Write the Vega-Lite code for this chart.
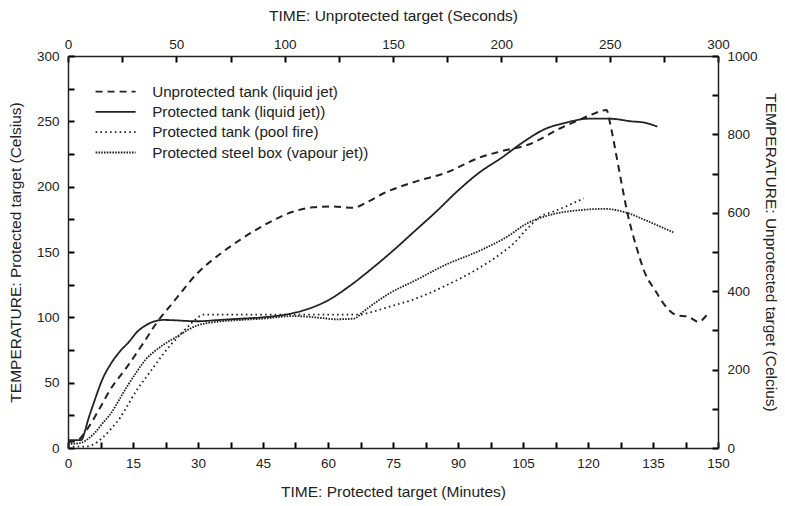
{
  "$schema": "https://vega.github.io/schema/vega-lite/v6.json",
  "width": 650,
  "height": 392,
  "autosize": {"type": "none"},
  "padding": {"left": 68, "top": 56, "right": 67, "bottom": 58},
  "background": "white",
  "config": {
    "view": {"stroke": null},
    "axis": {
      "domainColor": "#222", "domainWidth": 1.5,
      "labelFont": "Liberation Sans", "labelFontSize": 13.5, "labelColor": "#222",
      "titleFont": "Liberation Sans", "titleFontSize": 15.5, "titleFontWeight": "normal", "titleColor": "#222",
      "grid": false, "labelFlush": false, "labelOverlap": false
    },
    "legend": {
      "orient": "none", "legendX": 40, "legendY": 28, "padding": 0,
      "labelFont": "Liberation Sans", "labelFontSize": 15.2, "labelColor": "#222",
      "labelOffset": 29, "rowPadding": 4.3, "symbolType": "M-4,0H4", "symbolSize": 100,
      "symbolStrokeWidth": 1.8, "symbolStrokeColor": "#222", "labelLimit": 400, "title": null
    }
  },
  "datasets": {
    "protected": [
      {"series": "Protected tank (liquid jet))", "minutes": 0, "temp": 6},
      {"series": "Protected tank (liquid jet))", "minutes": 3, "temp": 6},
      {"series": "Protected tank (liquid jet))", "minutes": 4, "temp": 14},
      {"series": "Protected tank (liquid jet))", "minutes": 4.5, "temp": 20},
      {"series": "Protected tank (liquid jet))", "minutes": 6, "temp": 35},
      {"series": "Protected tank (liquid jet))", "minutes": 8, "temp": 53},
      {"series": "Protected tank (liquid jet))", "minutes": 10, "temp": 65},
      {"series": "Protected tank (liquid jet))", "minutes": 12, "temp": 74},
      {"series": "Protected tank (liquid jet))", "minutes": 14, "temp": 81},
      {"series": "Protected tank (liquid jet))", "minutes": 16, "temp": 89},
      {"series": "Protected tank (liquid jet))", "minutes": 18, "temp": 94},
      {"series": "Protected tank (liquid jet))", "minutes": 20, "temp": 97},
      {"series": "Protected tank (liquid jet))", "minutes": 22, "temp": 98},
      {"series": "Protected tank (liquid jet))", "minutes": 30, "temp": 97},
      {"series": "Protected tank (liquid jet))", "minutes": 35, "temp": 98},
      {"series": "Protected tank (liquid jet))", "minutes": 40, "temp": 99},
      {"series": "Protected tank (liquid jet))", "minutes": 45, "temp": 100},
      {"series": "Protected tank (liquid jet))", "minutes": 50, "temp": 102},
      {"series": "Protected tank (liquid jet))", "minutes": 55, "temp": 106},
      {"series": "Protected tank (liquid jet))", "minutes": 60, "temp": 113},
      {"series": "Protected tank (liquid jet))", "minutes": 65, "temp": 124},
      {"series": "Protected tank (liquid jet))", "minutes": 70, "temp": 137},
      {"series": "Protected tank (liquid jet))", "minutes": 75, "temp": 151},
      {"series": "Protected tank (liquid jet))", "minutes": 80, "temp": 166},
      {"series": "Protected tank (liquid jet))", "minutes": 85, "temp": 181},
      {"series": "Protected tank (liquid jet))", "minutes": 90, "temp": 197},
      {"series": "Protected tank (liquid jet))", "minutes": 95, "temp": 211},
      {"series": "Protected tank (liquid jet))", "minutes": 100, "temp": 222},
      {"series": "Protected tank (liquid jet))", "minutes": 105, "temp": 234},
      {"series": "Protected tank (liquid jet))", "minutes": 110, "temp": 244},
      {"series": "Protected tank (liquid jet))", "minutes": 115, "temp": 249},
      {"series": "Protected tank (liquid jet))", "minutes": 120, "temp": 252},
      {"series": "Protected tank (liquid jet))", "minutes": 125, "temp": 252},
      {"series": "Protected tank (liquid jet))", "minutes": 130, "temp": 250},
      {"series": "Protected tank (liquid jet))", "minutes": 133, "temp": 249},
      {"series": "Protected tank (liquid jet))", "minutes": 136, "temp": 246},

      {"series": "Protected tank (pool fire)", "minutes": 0, "temp": 1},
      {"series": "Protected tank (pool fire)", "minutes": 4, "temp": 1},
      {"series": "Protected tank (pool fire)", "minutes": 6, "temp": 3},
      {"series": "Protected tank (pool fire)", "minutes": 8, "temp": 8},
      {"series": "Protected tank (pool fire)", "minutes": 10, "temp": 15},
      {"series": "Protected tank (pool fire)", "minutes": 12, "temp": 23},
      {"series": "Protected tank (pool fire)", "minutes": 14, "temp": 34},
      {"series": "Protected tank (pool fire)", "minutes": 16, "temp": 45},
      {"series": "Protected tank (pool fire)", "minutes": 18, "temp": 54},
      {"series": "Protected tank (pool fire)", "minutes": 20, "temp": 63},
      {"series": "Protected tank (pool fire)", "minutes": 22, "temp": 72},
      {"series": "Protected tank (pool fire)", "minutes": 24, "temp": 80},
      {"series": "Protected tank (pool fire)", "minutes": 26, "temp": 87},
      {"series": "Protected tank (pool fire)", "minutes": 28, "temp": 94},
      {"series": "Protected tank (pool fire)", "minutes": 30, "temp": 100},
      {"series": "Protected tank (pool fire)", "minutes": 31, "temp": 102},
      {"series": "Protected tank (pool fire)", "minutes": 40, "temp": 102},
      {"series": "Protected tank (pool fire)", "minutes": 50, "temp": 102},
      {"series": "Protected tank (pool fire)", "minutes": 60, "temp": 102},
      {"series": "Protected tank (pool fire)", "minutes": 67, "temp": 102},
      {"series": "Protected tank (pool fire)", "minutes": 70, "temp": 104},
      {"series": "Protected tank (pool fire)", "minutes": 74, "temp": 108},
      {"series": "Protected tank (pool fire)", "minutes": 80, "temp": 114},
      {"series": "Protected tank (pool fire)", "minutes": 87, "temp": 124},
      {"series": "Protected tank (pool fire)", "minutes": 95, "temp": 138},
      {"series": "Protected tank (pool fire)", "minutes": 100, "temp": 149},
      {"series": "Protected tank (pool fire)", "minutes": 103, "temp": 157},
      {"series": "Protected tank (pool fire)", "minutes": 106, "temp": 168},
      {"series": "Protected tank (pool fire)", "minutes": 109, "temp": 177},
      {"series": "Protected tank (pool fire)", "minutes": 112, "temp": 181},
      {"series": "Protected tank (pool fire)", "minutes": 115, "temp": 185},
      {"series": "Protected tank (pool fire)", "minutes": 117, "temp": 188},
      {"series": "Protected tank (pool fire)", "minutes": 119, "temp": 191},

      {"series": "Protected steel box (vapour jet))", "minutes": 0, "temp": 3},
      {"series": "Protected steel box (vapour jet))", "minutes": 3, "temp": 4},
      {"series": "Protected steel box (vapour jet))", "minutes": 5, "temp": 8},
      {"series": "Protected steel box (vapour jet))", "minutes": 6, "temp": 11},
      {"series": "Protected steel box (vapour jet))", "minutes": 8, "temp": 19},
      {"series": "Protected steel box (vapour jet))", "minutes": 10, "temp": 27},
      {"series": "Protected steel box (vapour jet))", "minutes": 12, "temp": 38},
      {"series": "Protected steel box (vapour jet))", "minutes": 14, "temp": 49},
      {"series": "Protected steel box (vapour jet))", "minutes": 16, "temp": 59},
      {"series": "Protected steel box (vapour jet))", "minutes": 18, "temp": 68},
      {"series": "Protected steel box (vapour jet))", "minutes": 20, "temp": 74},
      {"series": "Protected steel box (vapour jet))", "minutes": 22, "temp": 79},
      {"series": "Protected steel box (vapour jet))", "minutes": 25, "temp": 85},
      {"series": "Protected steel box (vapour jet))", "minutes": 28, "temp": 91},
      {"series": "Protected steel box (vapour jet))", "minutes": 30, "temp": 94},
      {"series": "Protected steel box (vapour jet))", "minutes": 33, "temp": 96},
      {"series": "Protected steel box (vapour jet))", "minutes": 40, "temp": 98},
      {"series": "Protected steel box (vapour jet))", "minutes": 45, "temp": 99},
      {"series": "Protected steel box (vapour jet))", "minutes": 52, "temp": 101},
      {"series": "Protected steel box (vapour jet))", "minutes": 57, "temp": 100},
      {"series": "Protected steel box (vapour jet))", "minutes": 62, "temp": 98.5},
      {"series": "Protected steel box (vapour jet))", "minutes": 66, "temp": 99},
      {"series": "Protected steel box (vapour jet))", "minutes": 68, "temp": 104},
      {"series": "Protected steel box (vapour jet))", "minutes": 70, "temp": 109},
      {"series": "Protected steel box (vapour jet))", "minutes": 74, "temp": 118},
      {"series": "Protected steel box (vapour jet))", "minutes": 80, "temp": 128},
      {"series": "Protected steel box (vapour jet))", "minutes": 87, "temp": 140},
      {"series": "Protected steel box (vapour jet))", "minutes": 95, "temp": 151},
      {"series": "Protected steel box (vapour jet))", "minutes": 101, "temp": 161},
      {"series": "Protected steel box (vapour jet))", "minutes": 106, "temp": 172},
      {"series": "Protected steel box (vapour jet))", "minutes": 112, "temp": 179},
      {"series": "Protected steel box (vapour jet))", "minutes": 118, "temp": 182},
      {"series": "Protected steel box (vapour jet))", "minutes": 124, "temp": 183},
      {"series": "Protected steel box (vapour jet))", "minutes": 129, "temp": 180},
      {"series": "Protected steel box (vapour jet))", "minutes": 133.5, "temp": 174},
      {"series": "Protected steel box (vapour jet))", "minutes": 137, "temp": 169},
      {"series": "Protected steel box (vapour jet))", "minutes": 139.7, "temp": 165}
    ],
    "unprotected": [
      {"series": "Unprotected tank (liquid jet)", "seconds": 0, "temp_u": 15},
      {"series": "Unprotected tank (liquid jet)", "seconds": 4, "temp_u": 18},
      {"series": "Unprotected tank (liquid jet)", "seconds": 8.6, "temp_u": 46},
      {"series": "Unprotected tank (liquid jet)", "seconds": 14, "temp_u": 95},
      {"series": "Unprotected tank (liquid jet)", "seconds": 19.4, "temp_u": 148},
      {"series": "Unprotected tank (liquid jet)", "seconds": 27, "temp_u": 205},
      {"series": "Unprotected tank (liquid jet)", "seconds": 34.8, "temp_u": 268},
      {"series": "Unprotected tank (liquid jet)", "seconds": 41, "temp_u": 320},
      {"series": "Unprotected tank (liquid jet)", "seconds": 48.6, "temp_u": 372},
      {"series": "Unprotected tank (liquid jet)", "seconds": 59.4, "temp_u": 444},
      {"series": "Unprotected tank (liquid jet)", "seconds": 70.2, "temp_u": 495},
      {"series": "Unprotected tank (liquid jet)", "seconds": 79.4, "temp_u": 531},
      {"series": "Unprotected tank (liquid jet)", "seconds": 90.1, "temp_u": 567},
      {"series": "Unprotected tank (liquid jet)", "seconds": 101, "temp_u": 597},
      {"series": "Unprotected tank (liquid jet)", "seconds": 113, "temp_u": 614},
      {"series": "Unprotected tank (liquid jet)", "seconds": 121, "temp_u": 616},
      {"series": "Unprotected tank (liquid jet)", "seconds": 131.7, "temp_u": 613},
      {"series": "Unprotected tank (liquid jet)", "seconds": 138, "temp_u": 627},
      {"series": "Unprotected tank (liquid jet)", "seconds": 145, "temp_u": 648},
      {"series": "Unprotected tank (liquid jet)", "seconds": 159.4, "temp_u": 678},
      {"series": "Unprotected tank (liquid jet)", "seconds": 174.8, "temp_u": 703},
      {"series": "Unprotected tank (liquid jet)", "seconds": 190, "temp_u": 741},
      {"series": "Unprotected tank (liquid jet)", "seconds": 200, "temp_u": 757},
      {"series": "Unprotected tank (liquid jet)", "seconds": 213, "temp_u": 775},
      {"series": "Unprotected tank (liquid jet)", "seconds": 227, "temp_u": 815},
      {"series": "Unprotected tank (liquid jet)", "seconds": 236.3, "temp_u": 838},
      {"series": "Unprotected tank (liquid jet)", "seconds": 241, "temp_u": 849},
      {"series": "Unprotected tank (liquid jet)", "seconds": 248.6, "temp_u": 862},
      {"series": "Unprotected tank (liquid jet)", "seconds": 250.2, "temp_u": 828},
      {"series": "Unprotected tank (liquid jet)", "seconds": 253.2, "temp_u": 743},
      {"series": "Unprotected tank (liquid jet)", "seconds": 255.5, "temp_u": 675},
      {"series": "Unprotected tank (liquid jet)", "seconds": 257.9, "temp_u": 607},
      {"series": "Unprotected tank (liquid jet)", "seconds": 262.5, "temp_u": 510},
      {"series": "Unprotected tank (liquid jet)", "seconds": 266.3, "temp_u": 446},
      {"series": "Unprotected tank (liquid jet)", "seconds": 270.9, "temp_u": 403},
      {"series": "Unprotected tank (liquid jet)", "seconds": 274.8, "temp_u": 369},
      {"series": "Unprotected tank (liquid jet)", "seconds": 280.9, "temp_u": 339},
      {"series": "Unprotected tank (liquid jet)", "seconds": 286.3, "temp_u": 335},
      {"series": "Unprotected tank (liquid jet)", "seconds": 290.9, "temp_u": 322},
      {"series": "Unprotected tank (liquid jet)", "seconds": 294.8, "temp_u": 339}
    ]
  },
  "layer": [
    {
      "data": {"name": "protected"},
      "mark": {"type": "line", "strokeWidth": 1.8, "interpolate": "monotone", "color": "#222222"},
      "encoding": {
        "x": {"field": "minutes", "type": "quantitative",
          "scale": {"domain": [0, 150], "nice": false, "zero": false},
          "axis": {"orient": "bottom", "values": [0, 7.5, 15, 22.5, 30, 37.5, 45, 52.5, 60, 67.5, 75, 82.5, 90, 97.5, 105, 112.5, 120, 127.5, 135, 142.5, 150],
                   "labelExpr": "datum.value % 15 === 0 ? datum.label : ''",
                   "ticks": true, "tickSize": -6, "tickColor": "black", "tickWidth": 2, "labelPadding": 14, "title": "TIME: Protected target (Minutes)", "titlePadding": 15}},
        "y": {"field": "temp", "type": "quantitative",
          "scale": {"domain": [0, 300], "nice": false, "zero": false},
          "axis": {"orient": "left", "values": [0, 25, 50, 75, 100, 125, 150, 175, 200, 225, 250, 275, 300],
                   "labelExpr": "datum.value % 50 === 0 ? datum.label : ''",
                   "ticks": true, "tickSize": -6, "tickColor": "black", "tickWidth": 2, "labelPadding": 15, "title": "TEMPERATURE: Protected target (Celsius)", "titlePadding": 13}},
        "strokeDash": {"field": "series", "type": "nominal",
          "scale": {"domain": ["Unprotected tank (liquid jet)", "Protected tank (liquid jet))", "Protected tank (pool fire)", "Protected steel box (vapour jet))"],
                    "range": [[7, 5], [1, 0], [1.6, 3.2], [1.6, 1.2]]}}
      }
    },
    {
      "data": {"name": "unprotected"},
      "mark": {"type": "line", "strokeWidth": 2, "interpolate": "monotone", "color": "#222222"},
      "encoding": {
        "x": {"field": "seconds", "type": "quantitative",
          "scale": {"domain": [0, 300], "nice": false, "zero": false},
          "axis": {"orient": "top", "values": [0, 25, 50, 75, 100, 125, 150, 175, 200, 225, 250, 275, 300],
                   "labelExpr": "datum.value % 50 === 0 ? datum.label : ''",
                   "ticks": true, "tickSize": -6, "tickColor": "black", "tickWidth": 2, "labelPadding": 11, "title": "TIME: Unprotected target (Seconds)", "titlePadding": 14}},
        "y": {"field": "temp_u", "type": "quantitative",
          "scale": {"domain": [0, 1000], "nice": false, "zero": false},
          "axis": {"orient": "right", "values": [0, 100, 200, 300, 400, 500, 600, 700, 800, 900, 1000], "format": "d",
                   "labelExpr": "datum.value % 200 === 0 ? datum.label : ''",
                   "ticks": true, "tickSize": -6, "tickColor": "black", "tickWidth": 2, "labelPadding": 15, "title": "TEMPERATURE: Unprotected target (Celcius)", "titlePadding": 5}},
        "strokeDash": {"field": "series", "type": "nominal"}
      }
    }
  ],
  "resolve": {"scale": {"x": "independent", "y": "independent"}}
}
